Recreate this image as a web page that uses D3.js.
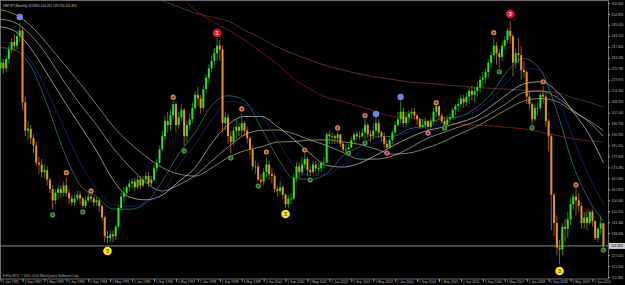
<!DOCTYPE html>
<html>
<head>
<meta charset="utf-8">
<script src="https://cdn.jsdelivr.net/npm/d3@7"></script>
<style>
  html, body { margin: 0; padding: 0; background: #000; }
  svg { display: block; }
  text { font-family: "Liberation Sans", Arial, sans-serif; }
</style>
</head>
<body>
<script>
const WIDTH = 625;
const HEIGHT = 285;

// GBPJPY monthly, Jan 1992 .. May 2010 (month index 0 = Jan 1992)
const firstOpen = 226;
const closes = [
  229,226,231,236,240,238,243,246,208,193,194,189,
  185,176,175,171,172,167,162,156,160,162,160,164,
  160,157,155,157,159,157,153,156,158,157,155,156,
  153,147,137,136,138,137,142,152,158,160,163,165,
  166,163,167,164,167,169,165,167,173,176,183,190,
  198,196,201,207,196,200,204,190,196,199,205,212,
  210,205,215,221,226,230,234,238,236,197,200,190,
  187,193,195,193,197,193,189,183,174,174,167,166,
  171,175,170,169,162,161,163,159,154,157,157,168,
  174,171,175,178,172,171,175,173,173,176,176,191,
  190,190,189,191,186,183,183,184,188,191,190,190,
  192,196,191,190,193,197,192,190,186,184,188,192,
  196,199,203,197,200,202,203,201,199,195,196,198,
  195,198,203,206,201,198,196,199,200,204,206,207,
  210,208,211,214,212,214,216,220,221,224,229,233,
  238,234,232,238,241,246,243,229,234,233,225,224,
  211,207,199,205,205,212,211,198,190,159,144,131,
  130,142,141,146,154,158,156,153,144,147,144,150,
  145,136,141,143.85,131.853
];
const highs = [
  232,231,233,238,242,244,246,250,248,211,198,196,
  191,187,179,178,175,174,168,164,162,164,164,166,
  168,162,159,159,161,161,158,158,160,159.5,158,158,
  157,154,148,140,140,140,143,153,160,163,164,167,
  168,168,169,169,169,171,171,169,175,178,185,193,
  201,203,204,209,208,203,207,205,198,202,208,214,
  216,212,217,223,228,233,237,242,241,238,203,202,
  193,195,199,197,202,198,195,190,185,177,176,170,
  173,179.5,177,173,170,164,166,164,160,159,160,170,
  176,176,179,181,179,174,177,177,176,177,179,192,
  193,192,191,192.5,191,187,186,186,190,192,193,193,
  194,199.5,197,193,197,200,199,193,192,188,189,193,
  198,203,208.5,205,203,204,205,205,202,200,199,200,
  198,200,205,206.6,206,202,200,201,202,205,207,210,
  212,212,213,216,217,216,219,222,224,226,231,235,
  242.5,240,236,240,243,247.5,251,244,237,242,238,230,
  225,214,208,207,208,213,216.5,213,199,191,160,148,
  135,144,146,150,157,160,162.5,160,155,150,151,151,
  151,145.5,142,148,144.091
];
const lows = [
  224,223,224,229,234,235,236,240,204,190,188,186,
  181,174,170,168,168,164,160,151,154,157,157,158,
  158,154,153,153,156,154,152,152,155,155,153,153,
  150,145,134,133.5,134,134,135,141,150,155,158,161,
  162,161,162,162,163,165,163,163,166,171,175,182,
  188,192,193,199,192,194,198,185,187,193,197,204,
  206,202,204,213,218,224,228,230,230,192,193,186,
  181,185,189,190,190,190,186,180,172,170,166,164,
  164,168,167,165,160,158,159,157,152,152,154,156,
  166,168,169,173,169,169,170,171,170,171,173,176,
  186,186,186,186,184,181,180,183,184,186,188,188,
  189,188.5,189,187,188,191,189,187,183.5,183,183.5,186,
  190,195,197,195,195,197,199,199,196,194,194,194,
  193.5,194,196,200,199,197,195.5,196,197,199,201,203,
  205,205,206,208,209,208,211,213,216,218,221,226,
  231,228,226,230,236,239,239,222,226,229,220,221,
  207,204,196,198,201,204,207,195,182,140,137,127,
  122,127,134,136,143,151,148,150,141,141,140,143,
  142,135,134,138,129.75
];

// moving averages, read at these month indexes
const maMonths = [0,5,11,17,23,29,35,41,47,53,59,65,71,77,83,89,95,101,107,113,119,125,131,137,143,149,155,161,167,173,179,185,191,197,203,209,215,220];
const maMaroon = [283.4,281.3,279.2,277.1,275,272.3,270.2,268.1,265.9,264.4,261.7,258.5,255.3,253.2,251.1,246.3,242.1,237.3,233.6,230.4,227.3,225.1,223,221.4,220.1,218.8,218.1,217.4,216.6,216,215.4,214.9,214.4,213.9,213.2,210.3,207.9,205.5];
const maRed = [350,345,338,331,324,316,308,300,291,282,273,265.4,256.9,251.1,246.3,241,234.7,228.3,220.4,215,210.6,208.4,205.8,203.1,200.5,199.7,198.6,197.6,196.5,196,195.5,194.7,193.9,192.3,190.4,188.6,187.5,187];
const maKhaki = [257,254.8,248.6,239,228.5,218,206.8,195.4,186.6,179.4,173.4,170,168.9,173.2,178.7,182.3,184.3,186.9,187.2,188,188.1,187,185.7,183.2,180.5,181.1,183.5,186.7,190.9,194.7,199.4,204.4,208.7,210,208.4,203,198,193];
const maPale = [252,250.4,243.7,232.7,219.3,207.1,196,183.9,174,165.6,161,164.2,169.2,176.8,184.3,190.7,193.1,193.3,191.3,188,185.1,181.4,177.9,177.9,179.5,183.5,188.4,191.7,194.8,197.7,202.2,207.8,213.2,214,210.7,203.8,197.2,190];
const maWhite = [248,245.9,236.6,223.1,209.1,195.7,182.3,167,157.7,156.3,158.8,165.9,173.4,186.2,196,200.5,200.5,195.2,188.3,180.9,174.5,173.7,175.7,179.9,184.8,189.1,192.7,194.7,197.1,200.1,205.9,212.4,217.8,218.9,213.9,202.9,190.4,176];
const maNavy = [240,238,229.9,214,195.1,176.2,162.1,153.8,152.8,155,159.9,174.5,185.6,198.6,208.6,206.9,200.5,188.1,174.1,169.2,169.6,174.7,181.7,186.6,189.5,192.3,195,196.8,200.1,203.1,209.4,218.9,226.2,225,212.1,188.8,168.2,154];
const maTeal = [237,235.8,227.2,206.6,182.4,164.2,158,151.5,151.3,154.7,166.1,180.5,192.1,206.2,211.5,208.9,194.8,178.8,167.7,167.1,170.2,179.7,184.4,189.7,189.9,193.8,195.6,199.5,200.3,204.6,212.4,224.5,231.1,225.3,203.3,174.6,155.5,145];

// signal markers [month, price]
const markBlue = [[7,253.2],[137,201.8],[146,210.8]];
const markRed = [[79,244.7],[186,254.8]];
const markYellow = [[39,129.2],[104,148.8],[204,118.6]];
const markOrange = [[24,170.7],[33,161],[63,210.7],[88,204.5],[97,181.7],[111,182.7],[123,194.4],[133,201],[159,207.8],[180,244.9],[198,218.9],[210,164.2]];
const markGreen = [[19,148.3],[30,149.9],[67,182.2],[84,178.5],[94,163.6],[113,166.8],[127,181.1],[133,186.4],[162,194.4],[182,224.2],[194,194.5],[220,129.7]];
const markPink = [[141,181.1],[156,191.7]];

const yTicks = [260.64,254.83,249.02,243.21,237.40,231.59,225.78,219.97,214.16,208.35,202.54,196.73,190.92,185.11,179.30,173.49,167.68,161.87,156.06,150.25,144.44,138.63,132.82,127.01,121.20,115.39];
const xTickMonths = [0,8,16,24,32,40,48,56,64,72,80,88,96,104,112,120,128,136,144,152,160,168,176,184,192,200,208,216];
const xTickLabels = ['1 Jan 1992','1 Sep 1992','1 May 1993','1 Jan 1994','1 Sep 1994','1 May 1995','1 Jan 1996','1 Sep 1996','1 May 1997','1 Jan 1998','1 Sep 1998','1 May 1999','1 Jan 2000','1 Sep 2000','1 May 2001','1 Jan 2002','1 Sep 2002','1 May 2003','1 Jan 2004','1 Sep 2004','1 May 2005','1 Jan 2006','1 Sep 2006','1 May 2007','1 Jan 2008','1 Sep 2008','1 May 2009','1 Jan 2010'];

const lastPrice = 131.853;
const headerText = 'GBPJPY,Monthly  143.850 144.091 129.750 131.853';
const copyText = 'FxPro MT4, \u00a9 2001-2010 MetaQuotes Software Corp.';

const plot = { left: 0, right: 608, top: 1, bottom: 279 };

const x = d3.scaleLinear().domain([0, 220]).range([0.6, 603.4]);
const y = d3.scaleLinear().domain([115.39, 260.64]).range([277, 3]);

const svg = d3.select('body').append('svg')
  .attr('width', WIDTH)
  .attr('height', HEIGHT)
  .style('background', '#000');

svg.append('clipPath').attr('id', 'clip')
  .append('rect')
  .attr('x', plot.left).attr('y', plot.top)
  .attr('width', plot.right - plot.left).attr('height', plot.bottom - plot.top);

// frame
svg.append('rect')
  .attr('x', 0.5).attr('y', 0.5)
  .attr('width', plot.right).attr('height', plot.bottom - 0.5)
  .attr('fill', 'none').attr('stroke', '#6e6e6e').attr('stroke-width', 1);

const g = svg.append('g').attr('clip-path', 'url(#clip)');

// moving averages
const maSets = [
  { v: maMaroon, c: '#84402f' },
  { v: maRed, c: '#a0221c' },
  { v: maKhaki, c: '#b9ba7c' },
  { v: maPale, c: '#b4bcae' },
  { v: maWhite, c: '#d2d2d2' },
  { v: maTeal, c: '#35898c' },
  { v: maNavy, c: '#222a86' }
];
const line = d3.line()
  .x(d => x(d[0]))
  .y(d => y(d[1]))
  .curve(d3.curveMonotoneX);

g.selectAll('path.ma')
  .data(maSets)
  .enter()
  .append('path')
  .attr('class', 'ma')
  .attr('d', s => line(maMonths.map((m, i) => [m, s.v[i]])))
  .attr('fill', 'none')
  .attr('stroke', s => s.c)
  .attr('stroke-width', 0.7);

// current price line
g.append('line')
  .attr('x1', plot.left).attr('x2', plot.right)
  .attr('y1', y(lastPrice)).attr('y2', y(lastPrice))
  .attr('stroke', '#8c8c8c').attr('stroke-width', 1);

// candles
const candles = closes.map((c, i) => ({
  m: i,
  o: i ? closes[i - 1] : firstOpen,
  h: highs[i],
  l: lows[i],
  c: c
}));

const cg = g.append('g');
cg.selectAll('line')
  .data(candles)
  .enter()
  .append('line')
  .attr('x1', d => x(d.m)).attr('x2', d => x(d.m))
  .attr('y1', d => y(d.h)).attr('y2', d => y(d.l))
  .attr('stroke', d => d.c >= d.o ? '#139a13' : '#a8621c')
  .attr('stroke-width', 0.9);

cg.selectAll('rect')
  .data(candles)
  .enter()
  .append('rect')
  .attr('x', d => x(d.m) - 1)
  .attr('width', 2)
  .attr('y', d => y(Math.max(d.o, d.c)))
  .attr('height', d => Math.max(0.8, Math.abs(y(d.o) - y(d.c))))
  .attr('fill', d => d.c >= d.o ? '#2ee02e' : '#e8922c');

// markers
const small = [
  { d: markOrange, fill: '#d9804a', core: '#5a2a10' },
  { d: markGreen, fill: '#3f9a3a', core: '#0f3f0f' },
  { d: markPink, fill: '#e0609a', core: '#6a1840' }
];
small.forEach(s => {
  const mg = g.append('g');
  mg.selectAll('circle.o')
    .data(s.d).enter().append('circle')
    .attr('cx', d => x(d[0])).attr('cy', d => y(d[1]))
    .attr('r', 2.6).attr('fill', s.fill);
  mg.selectAll('circle.i')
    .data(s.d).enter().append('circle')
    .attr('cx', d => x(d[0])).attr('cy', d => y(d[1]))
    .attr('r', 1).attr('fill', s.core);
});

g.selectAll('circle.blue')
  .data(markBlue).enter().append('circle')
  .attr('cx', d => x(d[0])).attr('cy', d => y(d[1]))
  .attr('r', 3.2).attr('fill', '#6d86e0');

const big = [
  { d: markRed, fill: '#e3182a', txt: '#ffd0d0' },
  { d: markYellow, fill: '#f7e61a', txt: '#6a5a00' }
];
big.forEach(s => {
  const bg = g.append('g');
  bg.selectAll('circle')
    .data(s.d).enter().append('circle')
    .attr('cx', d => x(d[0])).attr('cy', d => y(d[1]))
    .attr('r', 4.3).attr('fill', s.fill);
  bg.selectAll('text')
    .data(s.d).enter().append('text')
    .attr('x', d => x(d[0])).attr('y', d => y(d[1]) + 2)
    .attr('text-anchor', 'middle')
    .attr('font-size', 5.5).attr('font-weight', 'bold')
    .attr('fill', s.txt)
    .text('3');
});

// axes
const yAxis = d3.axisRight(y)
  .tickValues(yTicks)
  .tickFormat(d3.format('.3f'))
  .tickSize(2)
  .tickPadding(1.5);

const ya = svg.append('g')
  .attr('transform', 'translate(' + plot.right + ',0)')
  .call(yAxis);
ya.select('.domain').attr('stroke', '#6e6e6e');
ya.selectAll('.tick line').attr('stroke', '#9a9a9a');
ya.selectAll('.tick text')
  .attr('fill', '#b8b8b8')
  .attr('font-size', 3.3)
  .style('font-family', '"Liberation Sans", Arial, sans-serif');

const xAxis = d3.axisBottom(x)
  .tickValues(xTickMonths)
  .tickFormat((d, i) => xTickLabels[i])
  .tickSize(3);

const xa = svg.append('g')
  .attr('transform', 'translate(0,' + plot.bottom + ')')
  .call(xAxis);
xa.select('.domain').remove();
xa.selectAll('.tick line').attr('stroke', '#9a9a9a');
xa.selectAll('.tick text')
  .attr('fill', '#b8b8b8')
  .attr('font-size', 3.3)
  .attr('text-anchor', 'start')
  .attr('dx', 1.5)
  .attr('y', 2)
  .attr('dy', '0.71em')
  .style('font-family', '"Liberation Sans", Arial, sans-serif');

// last price box
const lp = svg.append('g').attr('transform', 'translate(' + (plot.right + 1) + ',' + y(lastPrice) + ')');
lp.append('rect')
  .attr('x', 0).attr('y', -3)
  .attr('width', 16).attr('height', 6)
  .attr('fill', '#c8c8c8');
lp.append('text')
  .attr('x', 2).attr('y', 1.2)
  .attr('font-size', 3.3)
  .attr('fill', '#000')
  .text(d3.format('.3f')(lastPrice));

// header and copyright
svg.append('text')
  .attr('x', 3).attr('y', 7)
  .attr('font-size', 3.2)
  .attr('fill', '#c8c8c8')
  .text(headerText);

svg.append('text')
  .attr('x', 3).attr('y', 277)
  .attr('font-size', 3.2)
  .attr('fill', '#b8b8b8')
  .text(copyText);
</script>
</body>
</html>
